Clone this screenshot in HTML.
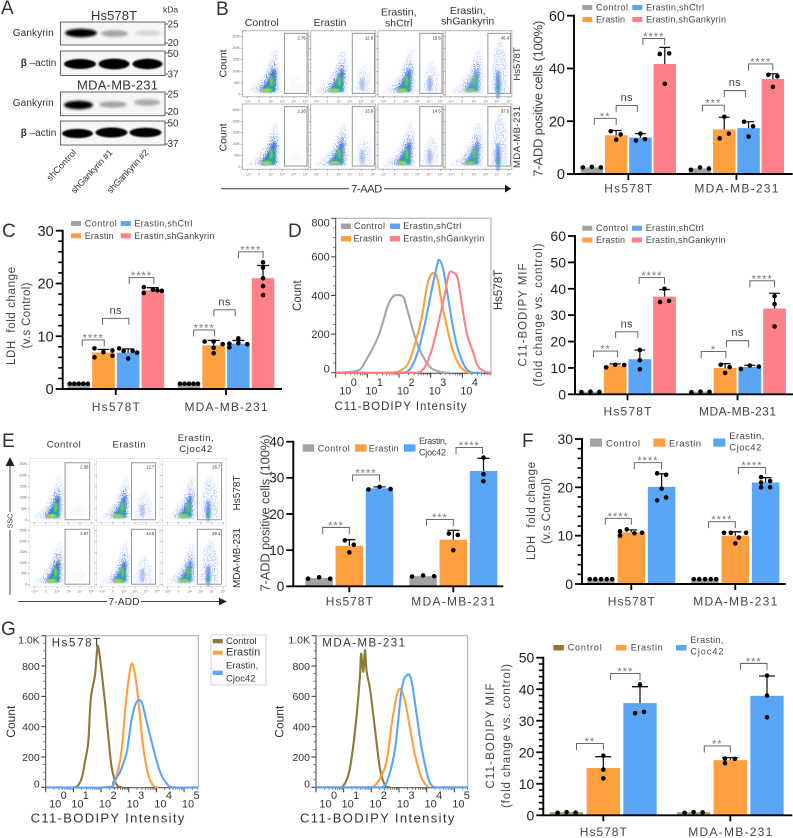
<!DOCTYPE html>
<html lang="en">
<head>
<meta charset="utf-8">
<title>Multi-panel figure</title>
<style>
html,body{margin:0;padding:0;background:#fff}
svg{display:block}
text{font-family:"Liberation Sans",sans-serif;fill:#333}
</style>
</head>
<body>
<svg id="fig" xmlns="http://www.w3.org/2000/svg" width="793" height="838" viewBox="0 0 793 838">
<defs>
<filter id="blur2" x="-30%" y="-60%" width="160%" height="220%"><feGaussianBlur stdDeviation="1.2"/></filter>
<filter id="blur1" x="-30%" y="-60%" width="160%" height="220%"><feGaussianBlur stdDeviation="0.8"/></filter>
<filter id="speckle" x="-20%" y="-20%" width="140%" height="140%">
<feTurbulence type="fractalNoise" baseFrequency="0.9" numOctaves="1" seed="4" result="n"/>
<feColorMatrix in="n" type="matrix" values="0 0 0 0 0 0 0 0 0 0 0 0 0 0 0 0 0 0 8 -3.9" result="m"/>
<feGaussianBlur in="SourceGraphic" stdDeviation="1.2" result="b"/>
<feComposite in="b" in2="m" operator="in"/>
</filter>
</defs>

<g font-size="19">
<text x="1" y="14">A</text>
<text x="216" y="15">B</text>
<text x="2" y="237">C</text>
<text x="288" y="237">D</text>
<text x="2" y="447">E</text>
<text x="522" y="447">F</text>
<text x="1" y="635">G</text>
</g>

<g>
<text x="114" y="20" font-size="13" text-anchor="middle" textLength="46">Hs578T</text>
<text x="117.500" y="89.300" font-size="13" text-anchor="middle" textLength="81">MDA-MB-231</text>
<text x="163" y="12.500" font-size="8.500">kDa</text>
<g>
<rect x="60.500" y="22" width="104.500" height="23" fill="#f6f6f6" stroke="#666"/>
<ellipse cx="81" cy="33" rx="16" ry="4.200" fill="#000" filter="url(#blur2)"/>
<ellipse cx="114.500" cy="33.500" rx="13.500" ry="3.400" fill="#a4a4a4" filter="url(#blur2)"/>
<ellipse cx="148" cy="33" rx="13" ry="2.800" fill="#d6d6d6" filter="url(#blur2)"/>
</g>
<g>
<rect x="60.500" y="51" width="104.500" height="24.500" fill="#f6f6f6" stroke="#666"/>
<ellipse cx="80" cy="64" rx="16" ry="5" fill="#000" filter="url(#blur1)"/>
<ellipse cx="114" cy="64" rx="15.500" ry="5.400" fill="#000" filter="url(#blur1)"/>
<ellipse cx="147.500" cy="64" rx="15" ry="5.200" fill="#000" filter="url(#blur1)"/>
</g>
<g>
<rect x="60.500" y="92" width="104.500" height="23.700" fill="#f6f6f6" stroke="#666"/>
<ellipse cx="78.500" cy="105" rx="14.500" ry="4.200" fill="#000" filter="url(#blur2)"/>
<ellipse cx="113" cy="104.500" rx="14" ry="3.200" fill="#a4a4a4" filter="url(#blur2)"/>
<ellipse cx="147" cy="102.500" rx="13" ry="3.400" fill="#aaaaaa" filter="url(#blur2)"/>
</g>
<g>
<rect x="60.500" y="121" width="104.500" height="24" fill="#f6f6f6" stroke="#666"/>
<ellipse cx="77.500" cy="133.500" rx="15.500" ry="4.600" fill="#000" filter="url(#blur1)"/>
<ellipse cx="111.500" cy="132.500" rx="16" ry="5" fill="#000" filter="url(#blur1)"/>
<ellipse cx="145.500" cy="132.500" rx="16" ry="4.800" fill="#000" filter="url(#blur1)"/>
</g>
<g font-size="10" fill="#333">
<text x="12.700" y="36" textLength="41">Gankyrin</text>
<text x="20.700" y="66"><tspan font-weight="bold">β</tspan> –actin</text>
<text x="12.700" y="106" textLength="41">Gankyrin</text>
<text x="20.700" y="136"><tspan font-weight="bold">β</tspan> –actin</text>
</g>
<g font-size="10">
<path d="M165 24h3M165 43h3M165 53h3M165 74h3M165 94h3M165 113h3M165 123h3M165 144h3" stroke="#555" fill="none"/>
<text x="167.500" y="27.500">25</text>
<text x="167.500" y="46">20</text>
<text x="167.500" y="57">50</text>
<text x="167.500" y="77.500">37</text>
<text x="167.500" y="97.500">25</text>
<text x="167.500" y="115">20</text>
<text x="167.500" y="126.500">50</text>
<text x="167.500" y="147">37</text>
</g>
<g font-size="9" fill="#555">
<text transform="translate(77,153) rotate(-47)" text-anchor="end" textLength="39">shControl</text>
<text transform="translate(113,153) rotate(-47)" text-anchor="end" textLength="56">shGankyrin #1</text>
<text transform="translate(149,153) rotate(-47)" text-anchor="end" textLength="56">shGankyrin #2</text>
</g>
</g>

<g id="flowB">
<g font-size="10.500" text-anchor="middle">
<text x="261.700" y="26">Control</text>
<text x="330" y="26">Erastin</text>
<text x="398.700" y="15.700">Erastin,</text>
<text x="398.700" y="26.500">shCtrl</text>
<text x="467.700" y="14">Erastin,</text>
<text x="467.700" y="24.500">shGankyrin</text>
</g>
<text transform="translate(226.500,63.500) rotate(-90)" font-size="10.500" text-anchor="middle">Count</text>
<text transform="translate(226.500,137.500) rotate(-90)" font-size="10.500" text-anchor="middle">Count</text>
<text transform="translate(520,64) rotate(-90)" font-size="9.500" text-anchor="middle">Hs578T</text>
<text transform="translate(520,137) rotate(-90)" font-size="9.500" text-anchor="middle" textLength="62">MDA-MB-231</text>
<path d="M221 188.700H349M384 188.700H505" stroke="#555" stroke-width="1.200" fill="none"/>
<path d="M511 188.700l-6-3.800v7.600z" fill="#111"/>
<text x="366.700" y="192.500" font-size="11" text-anchor="middle" textLength="31">7-AAD</text>
</g>

<g id="flowE">
<g font-size="9.500" text-anchor="middle">
<text x="63.700" y="447.500" textLength="34">Control</text>
<text x="129" y="447.500" textLength="33">Erastin</text>
<text x="195.700" y="441" textLength="36">Erastin,</text>
<text x="195.700" y="452" textLength="33">Cjoc42</text>
</g>
<text transform="translate(240,493) rotate(-90)" font-size="10" text-anchor="middle">Hs578T</text>
<text transform="translate(240,558) rotate(-90)" font-size="10" text-anchor="middle" textLength="60">MDA-MB-231</text>
<path d="M10 464V512M10 530V595" stroke="#444" fill="none"/>
<path d="M10 457l-4.500 9h9z" fill="#222"/>
<text transform="translate(12.500,521) rotate(-90)" font-size="7" text-anchor="middle">SSC</text>
<path d="M18 601.500H107M141 601.500H220" stroke="#444" fill="none"/>
<path d="M227 601.500l-8-3.800v7.600z" fill="#222"/>
<text x="124" y="605" font-size="10" text-anchor="middle" textLength="31">7-ADD</text>
</g>

<g id="chartB"></g>
<g id="chartC"></g>
<g id="chartDbar"></g>
<g id="chartE"></g>
<g id="chartF"></g>
<g id="chartGbar"></g>
<g id="histD"></g>
<g id="histG1"></g>
<g id="histG2"></g>

<g>
<rect x="211" y="635" width="55" height="50" fill="#fff" stroke="#ccc" stroke-width="0.800"/>
<rect x="212.700" y="639" width="10" height="4.300" fill="#8b7a35"/>
<rect x="212.700" y="650.700" width="10" height="4" fill="#ffa040"/>
<rect x="212.700" y="670.700" width="10" height="4.300" fill="#5aa5f5"/>
<text x="226" y="644" font-size="9.500">Control</text>
<text x="226" y="655.700" font-size="11">Erastin</text>
<text x="226" y="668.300" font-size="9.500">Erastin,</text>
<text x="226" y="681.700" font-size="9.500">Cjoc42</text>
</g>

<script>
// ---------- Flow cytometry gate percentages ----------
const flowBPercents = [[2.75, 12.9, 15.5, 45.4], [2.16, 13.8, 14.5, 37.5]];
const flowEPercents = [[2.08, 12.7, 26.7], [2.67, 14.6, 29.1]];
const flowYTickLabels = ['250K', '200K', '150K', '100K', '50K', '0'];
const flowXTickLabels = ['-10²', '0', '10²', '10³', '10⁴', '10⁵'];

// ---------- Shared categories ----------
const cellLines = ['Hs578T', 'MDA-MB-231'];
const starsLabels = { two: '**', three: '***', four: '****', one: '*', ns: 'ns' };

// ---------- Panel B bars ----------
const bTicks = [0, 20, 40, 60];
const bMeans = [[2.5, 14.7, 13.8, 41.7], [2.1, 16.9, 17.4, 36]];
const bUpper = [[2.5, 16.5, 15.3, 48], [2.1, 21.5, 19.8, 38]];
const bPoints = [
  [[2.5, 2.7, 2.5], [16.2, 13, 15], [12.7, 15.3, 13.2], [45.5, 34.2, 45.7]],
  [[1.6, 2.5, 2.1], [13.5, 21.7, 15.3], [14.2, 19.8, 18.1], [37.6, 33, 37]]
];
const bSlots = [
  [[-2, 0, 2], [-1.2, 0, 1], [-1, 0, 1], [-1.1, 0, 1]],
  [[-2, 0, 2], [-1, 0, 1], [0, -1, 1], [-1, 0, 1]]
];
const bBrackets = [
  [0, 0.1, 1, 21.1, 'two'], [0, 1, 1.87, 26, 'ns'], [0, 2.1, 3, 51.4, 'four'],
  [1, 0.1, 1, 26.1, 'three'], [1, 1, 1.87, 31.6, 'ns'], [1, 2, 3, 41.7, 'four']
];

// ---------- Panel C bars ----------
const cTicks = [0, 10, 20, 30];
const cMeans = [[1, 6.9, 6.9, 18.7], [1, 8.3, 8.6, 21]];
const cUpper = [[1, 7.5, 7.6, 19.2], [1, 9.2, 9.2, 23.4]];
const cPoints = [
  [[1, 1, 1, 1, 1], [6, 7.7, 7, 7.3, 6.3], [7.7, 7.2, 5.8, 7.2, 6.9], [19.3, 18.2, 18.8, 18.7, 18.6]],
  [[1, 1, 1, 1, 1], [9, 9, 6.8, 7.8, 8.5], [8.6, 7.9, 9.6, 8.7, 8.5], [24, 23, 21, 19.5, 17.8]]
];
const cSlots = [
  [[-2, -1, 0, 1, 2], [-2, -2, 0, 2, 2], [-2, -1, 0, 1, 2], [-2, -2, 0, 1, 2]],
  [[-2, -1, 0, 1, 2], [-2, 0, 0, 0, 2], [-2, -2, 0, 0, 2], [0, 0, 0, 0, 0]]
];
const cBrackets = [
  [0, 0.14, 1.03, 9.3, 'four'], [0, 0.96, 2.03, 13.4, 'ns'], [0, 2.04, 3.04, 21.1, 'four'],
  [1, 0.19, 1.04, 11.2, 'four'], [1, 1.01, 1.87, 15, 'ns'], [1, 2, 3, 26, 'four']
];

// ---------- Panel D bars ----------
const dTicks = [0, 10, 20, 30, 40, 50, 60];
const dMeans = [[1, 11, 13.3, 37], [1, 10, 10.4, 32.5]];
const dUpper = [[1, 11.5, 16.8, 39.7], [1, 11.6, 11, 38.3]];
const dPoints = [
  [[0.8, 1, 0.9], [10.2, 11.2, 11.1], [16.8, 12.9, 9.5], [35, 40, 35.4]],
  [[0.8, 1, 0.9], [11.2, 8.1, 10.3], [9.6, 10.9, 10.5], [37.2, 34.2, 25.7]]
];
const dSlots = [
  [[-2, 0, 2], [-2, 0, 2], [0, 0, 0], [-1, 0, 1]],
  [[-2, 0, 2], [-1, 0, 1], [-2, 0, 2], [0, 0, 0]]
];
const dBrackets = [
  [0, 0.12, 1.1, 16.4, 'two'], [0, 1.02, 1.92, 23.7, 'ns'], [0, 1.97, 3, 44.2, 'four'],
  [1, 0.03, 1.03, 16.2, 'one'], [1, 1.05, 1.95, 20.3, 'ns'], [1, 2, 3, 43, 'four']
];

// ---------- Panel E bars ----------
const eTicks = [0, 10, 20, 30, 40];
const eMeans = [[2.3, 11.2, 27.1], [2.8, 12.9, 31.9]];
const eUpper = [[2.3, 12.9, 27.5], [2.8, 15.5, 35.4]];
const ePoints = [
  [[2.1, 2.5, 2.1], [12.7, 9.4, 11.5], [26.8, 27.5, 26.9]],
  [[2.7, 3, 2.8], [14.6, 10, 14.2], [35.6, 31, 29.1]]
];
const eSlots = [
  [[-2.45, 0, 2.45], [-1, 0, 1], [-2.45, 0, 2.45]],
  [[-2.45, 0, 2.45], [-1, 0, 1], [0, 0, 0]]
];
const eBrackets = [
  [0, 0.12, 1, 16.3, 'three'], [0, 1.11, 2, 30.8, 'four'],
  [1, 0.11, 1, 18.5, 'three'], [1, 1.09, 1.97, 38.4, 'four']
];

// ---------- Panel F bars ----------
const fTicks = [0, 10, 20, 30];
const fMeans = [[1, 10.7, 20.1], [1, 10, 21]];
const fUpper = [[1, 11.2, 22.8], [1, 10.8, 22]];
const fPoints = [
  [[1, 1, 1, 1, 1], [10.9, 10, 11.3, 10.5, 10.6], [17.3, 22.9, 19.7, 17.9, 22.6]],
  [[1, 1, 1, 1, 1], [10.6, 10.6, 9.6, 8.4, 10.6], [22.1, 21, 20, 21.3, 20]]
];
const fSlots = [
  [[-2.5, -1.27, 0, 1.27, 2.5], [-2.5, -2.5, -1, 0.7, 2.4], [-1, -1, 0, 1, 1]],
  [[-2.5, -1.27, 0, 1.27, 2.5], [-2.5, -1, 0.8, 0, 2.4], [-1, -1, -1, 1, 1]]
];
const fBrackets = [
  [0, 0.14, 1, 13.6, 'four'], [0, 1.1, 2, 25.1, 'four'],
  [1, 0.12, 1, 12.9, 'four'], [1, 1.1, 2, 24.1, 'four']
];

// ---------- Panel G bars ----------
const gTicks = [0, 10, 20, 30, 40, 50];
const gMeans = [[1, 15, 35.6], [1, 17.5, 37.9]];
const gUpper = [[1, 18.6, 40.8], [1, 18.3, 44.2]];
const gPoints = [
  [[0.8, 1, 0.85], [18.9, 14.5, 11.7], [41.5, 32.4, 32.8]],
  [[0.8, 1, 0.9], [18, 16.5, 17.9], [44.3, 38, 31.1]]
];
const gSlots = [
  [[-2, 0, 2], [0, 0, 0], [0, -1.1, 0.9]],
  [[-2, 0, 2], [-1.2, -1.2, 1], [0, 0, 0]]
];
const gBrackets = [
  [0, 0.27, 1, 22.8, 'two'], [0, 1.2, 2, 45, 'three'],
  [1, 0.29, 1, 22, 'two'], [1, 1.28, 2, 48.2, 'three']
];

// ---------- Histograms: [log10 intensity] and [count] ----------
const histDTicks = [0, 200, 400, 600, 800];
const histDDecades = [0, 1, 2, 3, 4];
const histDGrayX = [0, 0.5, 0.77, 0.93, 1.14, 1.35, 1.51, 1.67, 1.83, 1.98, 2.14, 2.29, 2.45, 2.61, 2.82, 3.03, 3.35, 3.6];
const histDGrayY = [0, 5, 17, 57, 117, 190, 273, 359, 397, 402, 390, 309, 214, 135, 66, 22, 2, 0];
const histDOrangeX = [1.6, 1.87, 2.08, 2.29, 2.51, 2.72, 2.87, 3, 3.19, 3.35, 3.51, 3.66, 3.87, 4.08, 4.29];
const histDOrangeY = [0, 2, 14, 48, 152, 290, 437, 506, 501, 360, 239, 135, 48, 9, 0];
const histDBlueX = [1.9, 2.19, 2.4, 2.61, 2.82, 3.03, 3.19, 3.27, 3.4, 3.56, 3.72, 3.87, 4.08, 4.29, 4.6];
const histDBlueY = [0, 2, 31, 117, 256, 428, 549, 584, 532, 377, 221, 117, 31, 2, 0];
const histDPinkX = [0, 2.3, 2.61, 2.82, 3.03, 3.24, 3.45, 3.58, 3.72, 3.85, 3.98, 4.14, 4.35, 4.5, 4.72, 4.9];
const histDPinkY = [0, 0, 2, 31, 117, 256, 411, 515, 518, 489, 359, 204, 100, 31, 5, 0];

const histGTicks = [0, 200, 400, 600, 800, 1000];
const histGTickLabels = ['0', '200', '400', '600', '800', '1.0K'];
const histGDecades = [0, 1, 2, 3, 4, 5];
const g1OliveX = [0.8, 1.12, 1.3, 1.42, 1.54, 1.63, 1.78, 1.87, 1.94, 2.02, 2.14, 2.27, 2.39, 2.57, 2.75];
const g1OliveY = [0, 4, 59, 169, 300, 585, 739, 925, 882, 763, 566, 322, 125, 15, 0];
const g1OrangeX = [2.2, 2.45, 2.63, 2.75, 2.9, 3.02, 3.13, 3.27, 3.39, 3.53, 3.71, 3.89, 4.07];
const g1OrangeY = [0, 15, 125, 257, 564, 739, 816, 695, 498, 257, 81, 11, 0];
const g1BlueX = [0, 2.2, 2.45, 2.69, 2.93, 3.11, 3.29, 3.47, 3.65, 3.89, 4.13, 4.37, 4.61, 5.52];
const g1BlueY = [0, 0, 37, 103, 235, 454, 564, 559, 432, 257, 103, 26, 0, 0];
const g2OliveX = [0.6, 0.95, 1.17, 1.31, 1.47, 1.59, 1.63, 1.71, 1.77, 1.83, 1.95, 2.13, 2.31, 2.49, 2.67];
const g2OliveY = [0, 4, 81, 224, 476, 739, 882, 763, 906, 763, 651, 388, 125, 15, 0];
const g2OrangeX = [1.8, 2.07, 2.31, 2.55, 2.73, 2.92, 3.06, 3.22, 3.4, 3.58, 3.82, 4.06];
const g2OrangeY = [0, 4, 59, 169, 410, 607, 647, 564, 388, 213, 59, 0];
const g2BlueX = [0, 2.2, 2.43, 2.61, 2.86, 3.1, 3.31, 3.46, 3.64, 3.82, 4.06, 4.24, 4.5, 5.48];
const g2BlueY = [0, 0, 4, 59, 257, 651, 743, 695, 476, 257, 59, 4, 0, 0];

// ---------- Colors ----------
const GRAY = '#a2a2a4', ORANGE = '#ffa040', BLUE = '#5aa5f5', PINK = '#ff8086', OLIVE = '#8b7a35';
const NS = 'http://www.w3.org/2000/svg';

function mk(tag, attrs, parent) {
  const el = document.createElementNS(NS, tag);
  for (const k in attrs) el.setAttribute(k, attrs[k]);
  parent.appendChild(el);
  return el;
}
function tx(parent, str, x, y, o) {
  o = o || {};
  const el = mk('text', { 'font-size': o.size || 10 }, parent);
  if (o.rot) {
    el.setAttribute('transform', 'translate(' + x + ',' + y + ') rotate(' + o.rot + ')');
  } else {
    el.setAttribute('x', x);
    el.setAttribute('y', y);
  }
  if (o.anchor) el.setAttribute('text-anchor', o.anchor);
  if (o.len) el.setAttribute('textLength', o.len);
  if (o.fill) el.style.fill = o.fill;
  if (o.ls) el.setAttribute('letter-spacing', o.ls);
  el.textContent = str;
  return el;
}

function drawLegend(g, items, size) {
  items.forEach(function (it) {
    const sw = mk('rect', { x: it.sx, y: it.sy, width: it.sw, height: it.sh, fill: it.color }, g);
    
    
    it.lines.forEach(function (ln) {
      const t = tx(g, ln[0], it.tx, ln[1], { size: size, fill: '#444', len: ln[2] });
      
      
    });
  });
}

function drawBarChart(id, c) {
  const g = document.getElementById(id);
  const yMax = c.ticks[c.ticks.length - 1];
  const y = function (v) { return c.baseY - v / yMax * (c.baseY - c.topY); };
  const nBars = c.means[0].length;
  const x = function (grp, i) { return c.centers[grp] + (i - (nBars - 1) / 2) * c.step; };

  // bars and error bars and dots
  c.means.forEach(function (row, grp) {
    row.forEach(function (mean, i) {
      const cx = x(grp, i);
      const bar = mk('rect', { x: cx - c.barW / 2, y: y(mean), width: c.barW, height: c.baseY - y(mean), fill: c.colors[i] }, g);
      
      
      const up = c.upper[grp][i];
      if (up > mean) {
        const eb = mk('path', { d: 'M' + cx + ' ' + y(mean) + 'V' + y(up) + 'M' + (cx - c.capW / 2) + ' ' + y(up) + 'H' + (cx + c.capW / 2), stroke: '#1a1a1a', 'stroke-width': 1.3, fill: 'none' }, g);
        
        
      }
    });
  });
  c.points.forEach(function (row, grp) {
    row.forEach(function (pts, i) {
      pts.forEach(function (v, k) {
        const dot = mk('circle', { cx: x(grp, i) + c.slots[grp][i][k] * 4.5, cy: y(v), r: 2.3, fill: '#000' }, g);
        
        
      });
    });
  });

  // brackets
  c.brackets.forEach(function (b) {
    const x1 = x(b[0], b[1]), x2 = x(b[0], b[2]), yt = y(b[3]);
    const br = mk('path', { d: 'M' + x1 + ' ' + (yt + 6.5) + 'V' + yt + 'H' + x2 + 'V' + (yt + 6.5), stroke: '#555', 'stroke-width': 0.9, fill: 'none' }, g);
    
    
    const isNs = b[4] === 'ns';
    const lab = tx(g, starsLabels[b[4]], (x1 + x2) / 2, isNs ? yt - 4.5 : yt + 1.5, { size: 11, anchor: 'middle', fill: isNs ? '#444' : '#777', ls: isNs ? 0.3 : 1 });
    
    
  });

  // axes
  const ax = mk('path', { d: 'M' + c.axisX + ' ' + (c.topY - 1) + 'V' + c.baseY + 'M' + (c.axisX - 1) + ' ' + c.baseY + 'H' + c.axisEnd, stroke: '#000', 'stroke-width': 1.9, fill: 'none' }, g);
  
  
  c.ticks.forEach(function (t, idx) {
    const tk = mk('path', { d: 'M' + (c.axisX - 7) + ' ' + y(t) + 'H' + c.axisX, stroke: '#000', 'stroke-width': 1.8 }, g);
    
    
    const lb = tx(g, String(t), c.axisX - 9, y(t) + c.fontSize * 0.36, { size: c.fontSize, anchor: 'end', fill: '#222' });
    
    
    if (c.minor && idx < c.ticks.length - 1) {
      for (let m = 1; m < c.minor; m++) {
        const mv = t + (c.ticks[idx + 1] - t) * m / c.minor;
        const mt = mk('path', { d: 'M' + (c.axisX - 4.5) + ' ' + y(mv) + 'H' + c.axisX, stroke: '#000', 'stroke-width': 1.6 }, g);
        
        
      }
    }
  });
  c.centers.forEach(function (cx, i) {
    const tk = mk('path', { d: 'M' + cx + ' ' + c.baseY + 'v6', stroke: '#000', 'stroke-width': 1.8 }, g);
    
    
    const lb = tx(g, cellLines[i], cx, c.catY, { size: 12, anchor: 'middle', len: c.catLen[i], fill: '#444' });
    
    
  });
  c.ylabels.forEach(function (l) {
    const t = tx(g, l.text, l.x, l.y, { size: l.size, anchor: 'middle', rot: -90, len: l.len, fill: '#444' });
    
    
  });
  drawLegend(g, c.legend, c.legendSize);
}

function smooth(pts) {
  let d = 'M' + pts[0][0] + ' ' + pts[0][1];
  for (let i = 0; i < pts.length - 1; i++) {
    const p0 = pts[Math.max(i - 1, 0)], p1 = pts[i], p2 = pts[i + 1], p3 = pts[Math.min(i + 2, pts.length - 1)];
    const c1x = p1[0] + (p2[0] - p0[0]) / 6, c1y = p1[1] + (p2[1] - p0[1]) / 6;
    const c2x = p2[0] - (p3[0] - p1[0]) / 6, c2y = p2[1] - (p3[1] - p1[1]) / 6;
    d += 'C' + c1x + ' ' + c1y + ' ' + c2x + ' ' + c2y + ' ' + p2[0] + ' ' + p2[1];
  }
  return d;
}

function drawHist(id, c) {
  const g = document.getElementById(id);
  const yMax = c.ticks[c.ticks.length - 1];
  const y = function (v) { return c.y0 - v / yMax * (c.y0 - c.y1); };
  const x = function (l) { return c.x0 + l * c.decade; };

  const frame = mk('path', { d: 'M' + c.x0 + ' ' + c.y1 + 'H' + c.x1 + 'V' + c.y0, stroke: '#a8a8a8', fill: 'none' }, g);
  
  
  const axis = mk('path', { d: 'M' + c.x0 + ' ' + c.y1 + 'V' + c.y0 + 'M' + c.x0 + ' ' + (c.y0 + 0.5) + 'H' + c.x1, stroke: '#444', 'stroke-width': 1, fill: 'none' }, g);
  
  

  c.ticks.forEach(function (t, idx) {
    const tk = mk('path', { d: 'M' + (c.x0 - 4.5) + ' ' + y(t) + 'H' + c.x0, stroke: '#333', 'stroke-width': 1 }, g);
    
    
    const label = c.tickLabels ? c.tickLabels[idx] : String(t);
    const shift = idx === c.ticks.length - 1 ? 8 : (t === 0 ? 0 : 3.8);
    const lb = tx(g, label, c.x0 - 6, y(t) + shift, { size: c.tickSize, anchor: 'end', fill: '#333' });
    
    
    if (idx < c.ticks.length - 1) {
      for (let m = 1; m < 4; m++) {
        const mv = t + (c.ticks[idx + 1] - t) * m / 4;
        const mt = mk('path', { d: 'M' + (c.x0 - 2.5) + ' ' + y(mv) + 'H' + c.x0, stroke: '#555', 'stroke-width': 0.8 }, g);
        
        
      }
    }
  });

  c.decades.forEach(function (d, i) {
    const tk = mk('path', { d: 'M' + x(d) + ' ' + c.y0 + 'v5', stroke: '#333', 'stroke-width': 1 }, g);
    
    
    [2, 3, 4, 5, 6, 7, 8, 9].forEach(function (m) {
      const pos = x(d + Math.log10(m));
      if (pos <= c.x1) {
        const mt = mk('path', { d: 'M' + pos + ' ' + c.y0 + 'v2.500', stroke: '#444', 'stroke-width': 0.7 }, g);
        
        
      }
    });
    const lx = x(d) + (i === 0 ? 9.5 : 4);
    const base = tx(g, '10', lx, c.labelY, { size: c.labelSize, anchor: 'middle', fill: '#333' });
    
    
    const exp = tx(g, String(d), lx + 8.5, c.labelY - 8.5, { size: c.labelSize, anchor: 'middle', fill: '#333' });
    
    
  });

  c.series.forEach(function (s) {
    const pts = s.x.map(function (l, i) { return [x(l), y(s.y[i])]; });
    const line = mk('path', { d: smooth(pts), fill: 'none', stroke: s.color, 'stroke-width': 2.1, 'stroke-linejoin': 'round' }, g);
    
    
  });

  const xt = tx(g, 'C11-BODIPY Intensity', c.xTitle[0], c.xTitle[1], { size: c.xTitle[2], anchor: 'middle', len: c.xTitle[3], fill: '#333' });
  
  
  const yt = tx(g, 'Count', c.yTitle[0], c.yTitle[1], { size: c.yTitle[2], anchor: 'middle', rot: -90, fill: '#333' });
  
  
  if (c.tag) {
    const tag = tx(g, c.tag[0], c.tag[1], c.tag[2], { size: c.tag[3], len: c.tag[4], fill: '#333' });
    
    
  }
  if (c.sideTag) {
    const st = tx(g, c.sideTag[0], c.sideTag[1], c.sideTag[2], { size: c.sideTag[3], anchor: 'middle', rot: -90, fill: '#333' });
    
    
  }
  if (c.legend) drawLegend(g, c.legend, c.legendSize);
}

function poly(rel, px, py, w, h) {
  return rel.map(function (p) { return (px + p[0] * w) + ',' + (py + p[1] * h); }).join(' ');
}

function drawFlow(parent, px, py, w, h, pct, gl, gr, gt, gb, o) {
  const g = mk('g', {}, parent);
  
  
  const frame = mk('rect', { x: px, y: py, width: w, height: h, fill: '#fff', stroke: o.frame, 'stroke-width': o.frameW }, g);
  
  

  const sx = o.sx;
  const k = 1 - pct / 120;
  const layers = [
    [[[.05, .94], [.2, .82], [.35, .62], [.47, .3], [.53, .28], [.58, .6], [.56, .95]], '#b4c9f4', 0.8, 'url(#speckle)'],
    [[[.2, .93], [.35, .72], [.46, .46], [.53, .48], [.53, .93]], '#4a78e0', 0.9 * k, 'url(#speckle)'],
    [[[.27, .92], [.38, .76], [.47, .57], [.51, .6], [.5, .92]], '#2a64d6', 0.9 * k, 'url(#blur2)'],
    [[[.31, .93], [.42, .76], [.47, .66], [.49, .92]], '#22b098', 0.95 * k, 'url(#blur1)']
  ];
  layers.forEach(function (l) {
    const rel = l[0].map(function (p) { return [p[0] * sx, p[1]]; });
    const shp = mk('polygon', { points: poly(rel, px, py, w, h), fill: l[1], opacity: l[2], filter: l[3] }, g);
    
    
  });
  const core1 = mk('ellipse', { cx: px + .37 * sx * w, cy: py + .9 * h, rx: .08 * w, ry: .025 * h, fill: '#a8e040', opacity: k, filter: 'url(#blur1)' }, g);
  
  
  const core2 = mk('ellipse', { cx: px + .44 * sx * w, cy: py + .76 * h, rx: .025 * w, ry: .08 * h, fill: '#6fd050', opacity: k, filter: 'url(#blur1)' }, g);
  
  

  // gated population scales with the percentage value
  const gw = gr - gl;
  const reach = Math.min(.85, .22 + pct / 55);
  const op = Math.min(.9, .15 + pct / 28);
  const popPts = [[gl + .1 * gw, gb - .02], [gl + .28 * gw, gb - reach * .75], [gl + .55 * gw, gb - reach], [gl + .85 * gw, gb - reach * .6], [gl + .85 * gw, gb - .02]];
  const pop = mk('polygon', { points: poly(popPts, px, py, w, h), fill: '#a8c0f2', opacity: op, filter: 'url(#speckle)' }, g);
  
  
  if (pct > 5) {
    const streak = mk('ellipse', { cx: px + (gl + .45 * gw) * w, cy: py + (gb - .14) * h, rx: .035 * w, ry: Math.min(.22, .05 + pct / 220) * h, fill: '#4a78e0', opacity: Math.min(.85, pct / 30), filter: 'url(#blur2)' }, g);
    
    
  }
  if (pct > 24) {
    const gc = mk('ellipse', { cx: px + (gl + .45 * gw) * w, cy: py + (gb - .08) * h, rx: .025 * w, ry: .04 * h, fill: '#35b890', filter: 'url(#blur1)' }, g);
    
    
  }

  const gate = mk('rect', { x: px + gl * w, y: py + gt * h, width: gw * w, height: (gb - gt) * h, fill: 'none', stroke: '#969696', 'stroke-width': 1 }, g);
  
  
  const lab = tx(g, String(pct), px + (gr - .02) * w, py + (gt + .09) * h, { size: 4.2, anchor: 'end', fill: '#222' });
  
  

  // tiny tick marks and labels
  flowYTickLabels.forEach(function (t, i) {
    const yy = py + h * (.09 + i * .175);
    const mk1 = mk('path', { d: 'M' + (px - 1.5) + ' ' + yy + 'h1.5', stroke: '#666', 'stroke-width': .5 }, g);
    
    
    if (o.showY) {
      const lb = tx(g, t, px - 2.5, yy + 1, { size: 3.2, anchor: 'end', fill: '#666' });
      
      
    }
  });
  flowXTickLabels.forEach(function (t, i) {
    const xx = px + w * (.08 + i * .175);
    const mk2 = mk('path', { d: 'M' + xx + ' ' + (py + h) + 'v1.500', stroke: '#666', 'stroke-width': .5 }, g);
    
    
    const lb = tx(g, t, xx, py + h + 6, { size: 3.4, anchor: 'middle', fill: '#777' });
    
    
  });
}

// ---------- Layout and drawing ----------
const legend4 = function (x0, y0, y1, sx2) {
  return [
    { sx: x0, sy: y0, sw: 10, sh: 5, color: GRAY, tx: x0 + 13.7, lines: [['Control', y0 + 5.5, 32]] },
    { sx: x0, sy: y1, sw: 10, sh: 5, color: ORANGE, tx: x0 + 13.7, lines: [['Erastin', y1 + 5.5, 29]] },
    { sx: sx2, sy: y0, sw: 10, sh: 5, color: BLUE, tx: sx2 + 13.7, lines: [['Erastin,shCtrl', y0 + 5.5, 58]] },
    { sx: sx2, sy: y1, sw: 10, sh: 5, color: PINK, tx: sx2 + 13.7, lines: [['Erastin,shGankyrin', y1 + 5.5, 80]] }
  ];
};
const legend3 = function (a, ys, yh) {
  return [
    { sx: a[0], sy: ys, sw: a[1], sh: yh, color: a[6] || GRAY, tx: a[2], lines: [['Control', ys + yh, a[7]]] },
    { sx: a[3], sy: ys, sw: a[1], sh: yh, color: ORANGE, tx: a[4], lines: [['Erastin', ys + yh, a[8]]] },
    { sx: a[5], sy: ys, sw: a[1], sh: yh, color: BLUE, tx: a[5] + a[2] - a[0], lines: [['Erastin,', ys + yh - 7.5, a[9]], ['Cjoc42', ys + yh + 4, a[10]]] }
  ];
};
const colors4 = [GRAY, ORANGE, BLUE, PINK];
const colors3 = [GRAY, ORANGE, BLUE];
const colorsG = ['#a8a270', ORANGE, BLUE];

drawBarChart('chartB', {
  ticks: bTicks, means: bMeans, upper: bUpper, points: bPoints, slots: bSlots, brackets: bBrackets,
  axisX: 574, baseY: 174, topY: 15.7, axisEnd: 792.7, centers: [628.3, 736.4], step: 24.3, barW: 22.5, capW: 11,
  colors: colors4, fontSize: 14.5, catY: 192.7, catLen: [48, 84], minor: 0,
  ylabels: [{ text: '7-ADD positive cells (100%)', x: 542.5, y: 98.7, size: 13, len: 156 }],
  legend: legend4(582.3, 5, 17, 632.3), legendSize: 9
});
drawBarChart('chartC', {
  ticks: cTicks, means: cMeans, upper: cUpper, points: cPoints, slots: cSlots, brackets: cBrackets,
  axisX: 62.7, baseY: 389, topY: 230.7, axisEnd: 282, centers: [115.8, 226], step: 24.7, barW: 22.6, capW: 12,
  colors: colors4, fontSize: 14.5, catY: 411, catLen: [48, 83], minor: 5,
  ylabels: [
    { text: 'LDH\u00a0\u00a0fold change', x: 15, y: 316, size: 11.5, len: 98 },
    { text: '(v.s Control)', x: 30, y: 315.5, size: 11.5, len: 66 }
  ],
  legend: legend4(71, 221, 233.3, 120.7), legendSize: 9
});
drawBarChart('chartDbar', {
  ticks: dTicks, means: dMeans, upper: dUpper, points: dPoints, slots: dSlots, brackets: dBrackets,
  axisX: 575, baseY: 394.3, topY: 236, axisEnd: 793, centers: [627.5, 737.5], step: 24.7, barW: 22.8, capW: 11,
  colors: colors4, fontSize: 14, catY: 415.7, catLen: [48, 77], minor: 0,
  ylabels: [
    { text: 'C11-BODIPY MIF', x: 526.5, y: 315, size: 11.5, len: 103 },
    { text: '(fold change vs. control)', x: 542, y: 315, size: 11.5, len: 143 }
  ],
  legend: legend4(582.3, 225.7, 237.5, 632), legendSize: 9
});
drawBarChart('chartE', {
  ticks: eTicks, means: eMeans, upper: eUpper, points: ePoints, slots: eSlots, brackets: eBrackets,
  axisX: 293.3, baseY: 586.3, topY: 441.7, axisEnd: 503.3, centers: [349.3, 453.3], step: 30.2, barW: 27.5, capW: 12,
  colors: colors3, fontSize: 13.5, catY: 605.7, catLen: [47, 84], minor: 0,
  ylabels: [{ text: '7-ADD positive cells (100%)', x: 269.5, y: 513, size: 13, len: 157 }],
  legend: legend3([302.7, 11.5, 317.7, 355, 368.7, 404, GRAY, 32, 30, 28, 27], 444.3, 7.4), legendSize: 9
});
drawBarChart('chartF', {
  ticks: fTicks, means: fMeans, upper: fUpper, points: fPoints, slots: fSlots, brackets: fBrackets,
  axisX: 582, baseY: 584, topY: 439, axisEnd: 785.7, centers: [631.3, 735.3], step: 30.3, barW: 27.5, capW: 12,
  colors: colors3, fontSize: 14, catY: 605.5, catLen: [47, 84], minor: 5,
  ylabels: [
    { text: 'LDH\u00a0\u00a0fold change', x: 535, y: 511, size: 11.5, len: 98 },
    { text: '(v.s Control)', x: 550, y: 511, size: 11.5, len: 66 }
  ],
  legend: legend3([590, 12, 606, 653.3, 669, 713.3, GRAY, 34, 32, 35, 32], 438.5, 8.2), legendSize: 9.5
});
drawBarChart('chartGbar', {
  ticks: gTicks, means: gMeans, upper: gUpper, points: gPoints, slots: gSlots, brackets: gBrackets,
  axisX: 543.3, baseY: 815.3, topY: 657.7, axisEnd: 792.3, centers: [603.3, 730.3], step: 36.7, barW: 33.3, capW: 16,
  colors: colorsG, fontSize: 14, catY: 836, catLen: [47, 84], minor: 5,
  ylabels: [
    { text: 'C11-BODIPY MIF', x: 494, y: 736, size: 11.5, len: 105 },
    { text: '(fold change vs. control)', x: 510, y: 736, size: 11.5, len: 144 }
  ],
  legend: legend3([553.3, 10.5, 567.7, 616, 630.7, 676, OLIVE, 34, 32, 33, 33], 645, 5.5), legendSize: 9
});

drawHist('histD', {
  x0: 335.7, x1: 491, y0: 372.7, y1: 218.3, decade: 31.67, ticks: histDTicks, decades: histDDecades,
  tickSize: 11, labelSize: 10.8, labelY: 394.3,
  series: [
    { name: 'curve-control', color: '#a6a6a6', x: histDGrayX, y: histDGrayY },
    { name: 'curve-erastin', color: ORANGE, x: histDOrangeX, y: histDOrangeY },
    { name: 'curve-erastin-shctrl', color: BLUE, x: histDBlueX, y: histDBlueY },
    { name: 'curve-erastin-shgankyrin', color: PINK, x: histDPinkX, y: histDPinkY }
  ],
  xTitle: [400.5, 410, 11.5, 132], yTitle: [301, 295.7, 11.5], sideTag: ['Hs578T', 502, 290, 11.5],
  legend: [
    { sx: 341, sy: 223.5, sw: 10, sh: 5.5, color: GRAY, tx: 354, lines: [['Control', 229, 31]] },
    { sx: 341, sy: 236, sw: 10, sh: 5.5, color: ORANGE, tx: 353.5, lines: [['Erastin', 241.7, 29]] },
    { sx: 390, sy: 223.5, sw: 10, sh: 5.5, color: BLUE, tx: 403.3, lines: [['Erastin,shCtrl', 229, 58]] },
    { sx: 390, sy: 236, sw: 10, sh: 5.5, color: PINK, tx: 403.3, lines: [['Erastin,shGankyrin', 241.7, 81]] }
  ],
  legendSize: 9
});
drawHist('histG1', {
  x0: 45.7, x1: 198.3, y0: 787.3, y1: 635.7, decade: 27.67, ticks: histGTicks, tickLabels: histGTickLabels, decades: histGDecades,
  tickSize: 10.5, labelSize: 11, labelY: 807.7,
  series: [
    { name: 'curve-control', color: OLIVE, x: g1OliveX, y: g1OliveY },
    { name: 'curve-erastin', color: ORANGE, x: g1OrangeX, y: g1OrangeY },
    { name: 'curve-erastin-cjoc42', color: BLUE, x: g1BlueX, y: g1BlueY }
  ],
  xTitle: [107.5, 822.3, 13, 153.7], yTitle: [15, 721.7, 12], tag: ['Hs578T', 51.7, 646.7, 11.5, 48.5]
});
drawHist('histG2', {
  x0: 316, x1: 467.7, y0: 787.3, y1: 635.7, decade: 27.67, ticks: histGTicks, tickLabels: histGTickLabels, decades: histGDecades,
  tickSize: 10.5, labelSize: 11, labelY: 807.7,
  series: [
    { name: 'curve-control', color: OLIVE, x: g2OliveX, y: g2OliveY },
    { name: 'curve-erastin', color: ORANGE, x: g2OrangeX, y: g2OrangeY },
    { name: 'curve-erastin-cjoc42', color: BLUE, x: g2BlueX, y: g2BlueY }
  ],
  xTitle: [377.2, 822.3, 13, 154.3], yTitle: [283.5, 721.7, 12], tag: ['MDA-MB-231', 322.3, 646.7, 11.5, 82.7]
});

// flow plots B
(function () {
  const parent = document.getElementById('flowB');
  const xs = [242.3, 310.7, 378, 445.3], ws = [66, 65, 65.3, 66.5];
  const ys = [30.7, 104], hs = [66, 65.3];
  flowBPercents.forEach(function (row, r) {
    row.forEach(function (pct, c) {
      drawFlow(parent, xs[c], ys[r], ws[c], hs[r], pct, .64, .98, .04, .95, { sx: 1, frame: '#b5b5b5', frameW: 1, showY: c === 0 });
    });
  });
})();
// flow plots E
(function () {
  const parent = document.getElementById('flowE');
  const xs = [29.3, 96.7, 162.3], ws = [65, 63.3, 63.7];
  const ys = [458.3, 525], hs = [64, 61.7];
  flowEPercents.forEach(function (row, r) {
    row.forEach(function (pct, c) {
      drawFlow(parent, xs[c], ys[r], ws[c], hs[r], pct, .55, .93, .07, .96, { sx: .92, frame: '#d8d8d8', frameW: .6, showY: c === 0 });
    });
  });
})();
</script>
</svg>
</body>
</html>
